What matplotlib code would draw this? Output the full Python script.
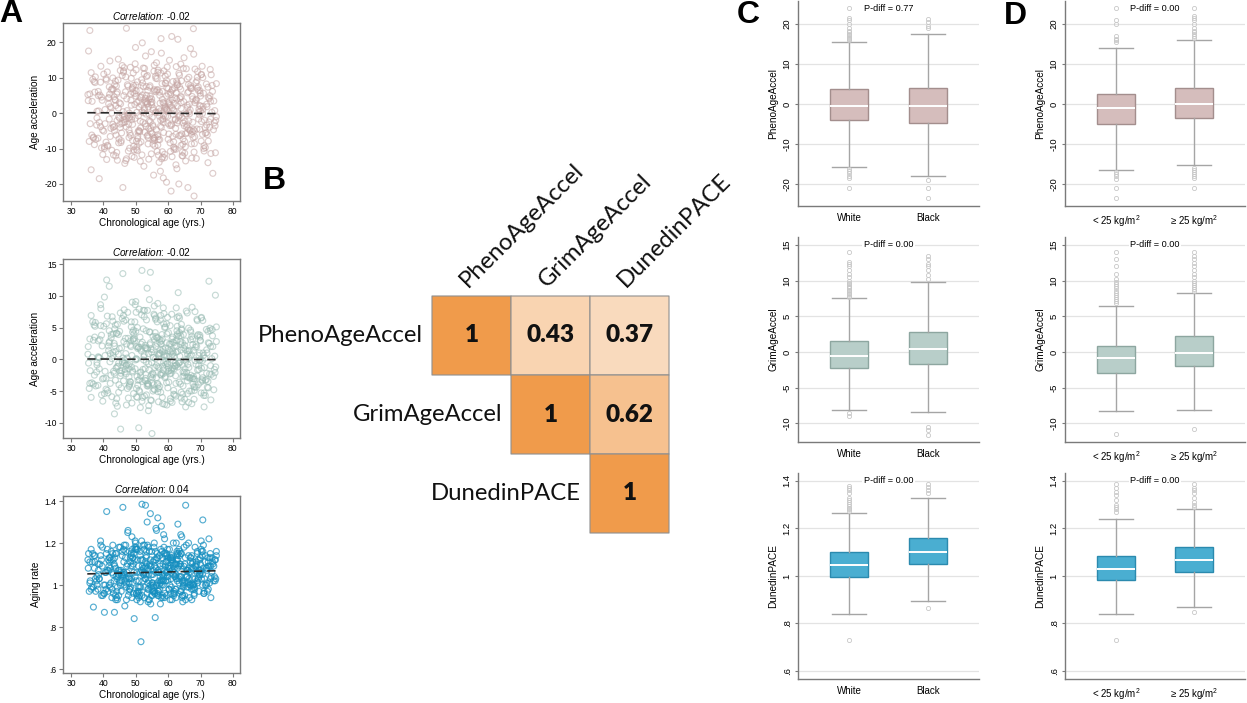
import matplotlib
matplotlib.use("Agg")
import matplotlib.pyplot as plt
import numpy as np
from matplotlib.colors import LinearSegmentedColormap, Normalize

# ---------------- DATA ----------------
# Panel A: chronological age (participants) and the three clocks (three blocks of read-off points)
ages = [
    36.2, 41.5, 47.8, 52.3, 55.1, 58.7, 63.4, 68.9, 72.6, 49.2, 53.8, 57.5, 60.9, 44.3, 66.1, 39.7, 51.0, 56.4, 61.8, 74.1,
    45.6, 50.4, 54.2, 59.3, 64.7, 70.2, 38.4, 43.1, 48.6, 53.1, 57.9, 62.2, 67.4, 73.3, 46.9, 52.7, 56.0, 60.1, 65.3, 35.8,
    42.4, 47.1, 51.6, 55.8, 59.9, 63.9, 69.5, 74.6, 40.8, 45.0, 49.9, 54.6, 58.2, 62.7, 67.0, 71.4, 37.5, 44.8, 50.8, 56.9,
    61.1, 65.8, 70.9, 48.1, 53.5, 57.2, 61.5, 66.6, 36.9, 42.0, 46.3, 51.3, 55.5, 59.6, 64.2, 69.1, 73.8, 43.7, 48.9, 54.0,
    58.4, 62.9, 67.8, 72.1, 39.1, 44.5, 49.5, 53.3, 57.0, 60.6, 64.9, 68.3, 47.5, 52.0, 56.6, 60.3, 63.1, 41.2, 46.0, 50.1,
    55.3, 59.0, 62.4, 66.3, 71.8, 38.0, 43.4, 48.3, 52.9, 56.2, 59.5, 63.6, 68.0, 74.9, 40.3, 45.3, 50.6, 54.8, 58.9, 62.0,
    65.6, 70.5, 44.1, 49.0, 53.6, 57.7, 61.3, 64.5, 69.8, 35.4, 41.8, 47.4, 51.9, 55.9, 60.4, 64.0, 67.2, 72.9, 46.6, 51.4,
    55.0, 58.6, 62.6, 66.9, 37.2, 42.7, 48.0, 52.5, 56.8, 61.0, 65.1, 70.0, 45.8, 50.9, 54.4, 58.0, 61.6, 66.0, 71.1, 39.4,
    43.9, 49.7, 53.0, 57.3, 60.7, 64.4, 68.6, 73.0, 47.0, 51.8, 55.6, 59.2, 63.0, 67.6, 36.5, 41.0, 46.2, 50.3, 54.9, 58.5,
    62.3, 66.4, 71.5, 44.6, 48.8, 53.7, 57.6, 61.9, 65.4, 69.3, 74.4, 40.1, 45.4, 50.0, 54.5, 59.7, 63.3, 67.9, 42.9, 52.1,
    56.3, 60.0, 64.1, 68.7, 38.7, 47.6, 51.2, 55.4, 59.1, 62.8, 72.3, 35.2, 46.4, 49.4, 53.9, 57.8, 61.4, 65.9, 70.7, 43.0,
]
pheno_accel = [
    -16.0, 4.2, -3.1, 7.5, -1.2, 2.8, -6.4, 9.1, -2.5, 11.3, -8.7, 0.6, -22.0, 5.9, -21.0, -4.8, 1.7, 14.2, -10.3, 3.4,
    -5.6, 3.0, -0.4, 8.4, 12.6, -7.9, 6.1, -11.8, 2.2, -3.7, 16.9, -1.9, 4.7, 10.8, -13.4, 0.9, -6.8, 5.3, -9.5, 23.3,
    1.5, 23.9, -8.1, 6.6, -2.9, 13.8, 0.3, -11.2, 9.7, -1.4, 18.5, -5.2, 3.9, -15.7, 7.2, -4.1, 10.2, -7.3, -0.8, 12.1,
    21.6, -3.3, 5.6, -9.9, 2.5, -13.9, 8.9, -0.2, -7.0, 14.7, -2.7, 4.4, -17.5, 1.1, -5.9, 11.7, -17.0, 3.6, 6.8, -4.4,
    -1.6, 7.9, 23.8, -6.1, -3.8, 9.3, -12.5, 5.0, 0.1, -8.4, 15.6, 2.9, -0.6, 19.8, -10.8, 3.2, -2.2, -9.1, -21.0, 6.3,
    -7.6, 1.9, -14.6, 6.0, 8.2, 0.5, -5.0, 12.9, -3.0, 9.8, -19.5, 4.1, -23.4, -1.0, -10.0, 2.6, -6.5, 17.3, -11.6, 7.1,
    -0.3, 13.2, 5.4, -7.7, 10.6, -2.0, 3.7, -12.1, -4.6, 17.5, -1.7, 8.0, 0.4, -9.3, 14.9, 1.3, -6.0, 4.9, -14.2, -2.3,
    3.1, -5.5, 9.0, 18.2, -8.9, 6.9, 0.0, -15.0, 11.5, -3.5, -8.0, 2.0, 13.4, -4.9, 7.7, -12.9, 0.8, 5.7, -10.7, 4.5,
    -6.2, 2.4, 16.1, -0.9, 5.8, -11.0, 8.6, 12.3, -3.9, 9.4, -7.1, 1.6, 20.8, -2.6, 3.3, -13.1, 11.9, -9.6, 4.0, -18.3,
    -4.3, 10.1, -9.7, 15.2, -1.1, 6.4, -16.4, 2.7, -5.8, 7.4, 0.7, 11.0, -8.3, 4.8, -2.4, 13.0, -20.0, 16.6, -3.2, 8.5,
    0.2, -7.4, 4.6, -12.8, -18.5, 7.6, -5.3, 1.4, 10.4, -2.8, -14.0, 5.2, -1.8, -10.4, 3.8, 21.0, -6.6, 9.6, 1.0, -4.0,
]
grim_accel = [
    -6.0, 2.1, -1.5, 4.8, -2.9, 0.7, -3.6, 6.3, 12.3, 3.2, -4.2, 1.0, -2.2, 5.5, -0.8, -3.1, 7.9, -1.0, 2.6, -4.8,
    1.8, -2.7, 9.4, -0.3, 3.9, -5.3, 0.4, -1.9, 5.1, -3.4, 2.9, -0.6, 8.2, -2.4, 0.9, -5.8, 4.2, -1.3, 1.5, -3.8,
    3.4, -0.9, -2.0, 6.9, -4.5, 2.3, -1.6, 10.1, -3.0, 4.4, -0.1, -6.4, 1.2, 3.7, -2.5, 0.2, 5.8, -4.0, 1.9, -1.2,
    7.1, -2.8, 0.6, -3.9, 11.2, -1.4, 2.7, -5.0, 3.0, -0.4, 6.0, -2.1, 0.3, -7.2, 4.6, -1.7, 2.0, -3.3, 9.0, -0.7,
    -2.3, 4.0, 1.4, -4.4, 8.6, -1.1, 3.3, -5.6, 0.8, 5.3, -2.6, -0.2, 7.4, -3.5, 2.5, -1.8, 10.5, -4.9, 13.5, 0.1,
    3.6, -2.9, 1.1, -6.8, 4.7, -0.5, -8.6, 2.2, -1.5, 6.5, -3.7, 0.5, -4.3, 2.8, 9.8, -11.0, 1.7, -2.4, 5.0, -1.0,
    0.0, -3.2, 4.1, -1.8, 7.7, -5.2, 1.3, -2.7, 3.5, -0.6, 11.5, -4.6, 14.0, -1.3, 2.4, -6.1, 0.7, 4.9, -2.0, 1.6,
    -11.7, 5.6, -0.9, 3.1, -2.5, 6.7, -4.1, 0.4, 8.8, -1.6, 2.2, -3.6, -0.3, -10.8, 4.3, -2.2, 1.0, -5.4, -7.5, 3.8,
    -1.4, 5.9, -3.0, 0.9, -6.6, 2.6, -0.8, 4.5, -2.3, 7.0, -4.7, 1.8, -1.2, 3.2, 0.3, 12.5, -3.4, 2.0, -0.5, 8.1,
    -2.6, 1.3, -5.7, 3.9, 0.6, -3.8, 6.2, -1.5, 2.9, -4.0, 0.5, 5.2, -2.2, 9.1, 13.7, -0.7, 3.6, -3.1, 1.1, -6.0,
    2.0, -1.9, 4.8, -4.4, 0.2, 3.3, -5.1, 1.5, -2.7, 6.6, -3.5, 0.8, -0.1, 4.0, -8.1, 2.4, -1.4, 7.3, -2.9, 0.6,
]
dunedin_pace = [
    0.98, 1.12, 1.03, 1.08, 0.95, 1.15, 1.01, 1.06, 1.22, 1.10, 0.92, 1.04, 1.13, 0.99, 1.07, 1.18, 1.02, 1.26, 0.97, 1.09,
    1.05, 1.17, 0.93, 1.11, 1.00, 1.21, 1.07, 0.96, 1.14, 1.03, 1.28, 0.98, 1.10, 1.04, 1.19, 0.94, 0.845, 1.08, 1.13, 1.01,
    1.16, 0.99, 0.73, 1.09, 1.02, 1.24, 0.97, 1.12, 1.06, 1.01, 1.20, 0.91, 1.05, 1.15, 1.00, 1.11, 1.03, 1.18, 0.96, 1.07,
    1.14, 1.04, 1.19, 0.98, 1.30, 1.02, 1.09, 0.94, 0.895, 1.13, 1.06, 1.16, 0.99, 1.07, 1.23, 1.01, 1.10, 0.95, 1.17, 1.05,
    1.00, 1.12, 1.08, 0.97, 1.21, 1.04, 0.84, 1.14, 1.06, 0.93, 1.18, 1.03, 1.25, 1.09, 1.01, 0.98, 1.15, 1.07, 1.37, 1.02,
    1.11, 0.96, 1.05, 1.20, 1.08, 1.00, 0.87, 1.13, 1.03, 1.27, 0.95, 1.10, 1.01, 1.16, 0.87, 1.06, 1.12, 0.99, 1.22, 1.04,
    1.07, 1.14, 0.97, 1.09, 1.19, 1.02, 1.12, 0.92, 1.05, 1.15, 1.00, 1.10, 1.385, 0.96, 1.17, 1.04, 1.08, 1.13, 0.90, 1.06,
    1.01, 1.24, 1.03, 1.11, 1.08, 0.98, 1.16, 1.05, 1.32, 0.99, 1.10, 1.06, 1.14, 0.94, 1.09, 1.02, 1.20, 1.07, 0.97, 1.12,
    1.04, 1.18, 1.38, 1.00, 1.13, 0.95, 1.07, 1.15, 1.01, 1.21, 0.97, 1.09, 1.29, 1.03, 1.11, 1.35, 1.06, 0.93, 1.16, 1.02,
    1.10, 0.99, 1.14, 1.05, 1.23, 1.01, 0.91, 1.08, 1.38, 1.03, 1.12, 0.96, 1.07, 1.17, 1.34, 1.04, 1.09, 1.00, 1.19, 1.06,
    1.08, 1.13, 0.98, 1.11, 1.03, 1.26, 0.95, 1.07, 1.15, 1.02, 1.09, 1.12, 1.00, 1.06, 1.18, 0.94, 1.11, 1.04, 1.31, 1.05,
]
# core of the cloud (denser central region)
ages_core = [
    44.2, 48.5, 52.8, 57.1, 61.4, 65.7, 70.0, 46.3, 50.6, 54.9, 59.2, 63.5, 67.8, 42.1, 56.7, 60.8, 49.8, 53.4, 64.6, 58.1,
    47.3, 51.5, 55.7, 59.8, 64.0, 68.2, 72.4, 45.1, 49.3, 53.2, 57.4, 61.7, 66.0, 70.3, 43.5, 48.2, 52.4, 56.5, 60.5, 62.9,
    50.2, 54.3, 58.3, 62.5, 66.7, 41.6, 45.9, 50.5, 55.2, 59.4, 63.8, 68.4, 71.2, 46.8, 51.1, 55.3, 59.6, 64.3, 57.9, 53.6,
    48.4, 52.2, 56.1, 60.2, 64.8, 69.0, 73.1, 43.3, 47.9, 52.6, 57.6, 61.2, 65.5, 69.7, 44.7, 49.1, 54.1, 58.8, 62.1, 66.8,
    51.7, 55.6, 59.5, 63.2, 67.3, 40.5, 46.1, 50.7, 54.7, 58.6, 62.7, 66.2, 70.8, 45.7, 49.6, 53.5, 57.5, 61.6, 65.0, 56.8,
    47.7, 52.0, 56.4, 60.7, 64.5, 68.8, 42.6, 46.7, 51.3, 55.0, 59.0, 63.4, 67.6, 71.9, 44.0, 48.7, 53.1, 57.0, 61.9, 54.5,
    49.0, 53.9, 58.2, 62.4, 66.5, 70.6, 41.9, 45.2, 50.3, 54.2, 58.5, 62.6, 65.9, 69.5, 47.0, 51.6, 55.8, 60.0, 63.7, 57.3,
    50.9, 55.4, 59.7, 63.9, 68.1, 43.8, 48.1, 52.9, 56.9, 61.3, 65.2, 69.9, 46.5, 50.0, 54.6, 58.4, 62.2, 66.4, 53.7, 60.4,
]
pheno_core = [
    -2.1, 3.6, -5.4, 1.2, 6.8, -3.9, 0.5, 4.9, -7.2, 2.3, -0.9, 7.4, -4.6, 1.8, -6.1, 5.2, -1.5, 3.1, -2.8, 8.3,
    0.7, -4.2, 6.2, -1.0, 2.9, -6.7, 4.4, -3.1, 7.8, -0.3, 5.0, -8.1, 1.6, -2.4, 3.8, -5.7, 0.1, 6.5, -3.5, 2.0,
    -7.9, 4.1, -1.8, 5.7, -4.9, 2.6, -0.6, 8.8, -3.3, 1.0, -6.3, 3.5, -2.0, 6.0, -5.1, 0.9, 7.1, -1.3, -4.0, 2.7,
    5.4, -2.6, 0.3, -5.9, 3.2, 7.0, -1.7, 4.6, -6.9, 1.4, -3.7, 6.4, -0.2, 2.1, -8.4, 5.8, -2.2, 0.8, 4.3, -4.8,
    2.4, -7.0, 4.8, -1.1, 6.9, -3.0, 0.4, -5.3, 3.0, -0.7, 8.0, -4.4, 1.9, -2.9, 5.5, -6.5, 2.8, -0.4, -3.6, 6.6,
    -1.4, 5.1, -4.7, 2.2, -8.8, 3.7, 0.0, -2.5, 6.3, -5.8, 1.3, -0.8, 4.0, -3.4, 7.6, -1.9, 3.3, -7.5, 0.6, 4.7,
    -3.2, 1.7, 6.1, -6.0, 2.5, -0.1, 5.3, -4.1, 0.2, 7.3, -2.7, 3.9, -5.6, 1.1, -1.6, 4.5, -7.7, 2.9, -0.5, 5.9,
    3.4, -3.8, 0.8, 6.7, -5.0, 2.1, -1.2, 4.2, -6.6, 1.5, -2.3, 5.6, -0.9, 7.9, -4.3, 3.0, -1.7, 0.3, -6.2, 2.6,
]
grim_core = [
    -1.2, 2.0, -3.3, 0.6, 3.5, -2.1, 0.0, 2.8, -4.1, 1.1, -0.8, 4.2, -2.7, 0.9, -3.8, 2.4, -1.5, 1.7, -2.0, 3.9,
    0.2, -2.6, 3.1, -0.7, 1.5, -4.4, 2.6, -1.8, 4.6, -0.4, 2.7, -4.9, 0.8, -1.4, 2.1, -3.5, -0.1, 3.4, -2.3, 1.2,
    -4.6, 2.3, -1.1, 3.0, -3.0, 1.4, -0.5, 5.0, -2.2, 0.5, -3.9, 1.9, -1.3, 3.3, -3.2, 0.3, 4.0, -0.9, -2.5, 1.6,
    2.9, -1.6, 0.1, -3.6, 1.8, 3.7, -1.0, 2.5, -4.3, 0.7, -2.4, 3.2, -0.3, 1.0, -5.2, 3.0, -1.7, 0.4, 2.2, -2.9,
    1.3, -4.0, 2.6, -0.6, 3.6, -1.9, 0.2, -3.3, 1.6, -0.5, 4.5, -2.8, 1.0, -1.8, 2.9, -4.2, 1.5, -0.2, -2.1, 3.4,
    -0.9, 2.7, -2.9, 1.2, -5.5, 2.0, 0.1, -1.6, 3.5, -3.7, 0.6, -0.6, 2.3, -2.2, 4.1, -1.2, 1.8, -4.6, 0.4, 2.6,
    -2.0, 0.9, 3.2, -3.8, 1.4, -0.2, 2.8, -2.6, 0.0, 4.3, -1.7, 2.1, -3.4, 0.6, -1.0, 2.4, -4.8, 1.7, -0.4, 3.1,
    1.9, -2.4, 0.5, 3.7, -3.1, 1.2, -0.7, 2.2, -4.0, 0.8, -1.5, 3.0, -0.6, 4.4, -2.7, 1.6, -1.1, 0.2, -3.9, 1.4,
]
pace_core = [
    1.03, 1.09, 0.99, 1.06, 1.13, 1.01, 1.07, 1.11, 0.97, 1.05, 1.02, 1.14, 1.00, 1.08, 0.96, 1.12, 1.04, 1.10, 1.01, 1.16,
    1.06, 0.99, 1.12, 1.04, 1.09, 0.98, 1.11, 1.02, 1.15, 1.05, 1.10, 0.95, 1.07, 1.03, 1.09, 0.98, 1.05, 1.13, 1.00, 1.08,
    0.96, 1.10, 1.03, 1.12, 1.00, 1.07, 1.04, 1.17, 1.01, 1.06, 0.97, 1.09, 1.03, 1.13, 0.99, 1.05, 1.14, 1.02, 1.00, 1.08,
    1.11, 1.02, 1.06, 0.98, 1.09, 1.15, 1.03, 1.10, 0.97, 1.06, 1.01, 1.12, 1.04, 1.07, 0.95, 1.13, 1.02, 1.05, 1.10, 1.00,
    1.07, 0.97, 1.11, 1.03, 1.14, 1.00, 1.05, 0.99, 1.09, 1.04, 1.16, 1.01, 1.08, 1.02, 1.12, 0.96, 1.09, 1.05, 1.01, 1.13,
    1.04, 1.12, 1.00, 1.08, 0.95, 1.10, 1.06, 1.02, 1.14, 0.98, 1.07, 1.04, 1.11, 1.01, 1.15, 1.03, 1.09, 0.97, 1.06, 1.12,
    1.01, 1.07, 1.13, 0.98, 1.08, 1.05, 1.11, 1.00, 1.06, 1.16, 1.02, 1.10, 0.99, 1.07, 1.03, 1.12, 0.96, 1.09, 1.04, 1.14,
    1.09, 1.00, 1.06, 1.15, 0.99, 1.08, 1.03, 1.11, 0.97, 1.07, 1.02, 1.13, 1.05, 1.17, 1.00, 1.10, 1.04, 1.06, 0.98, 1.08,
]
# outer band of the cloud (fills the age edges and the shoulders)
ages_band = [
    35.3, 36.4, 37.1, 38.0, 38.9, 39.4, 40.5, 41.2, 42.3, 43.0, 43.8, 44.9, 35.9, 36.7, 37.6, 38.5, 39.2, 40.1, 41.7, 42.6,
    66.4, 67.0, 68.1, 68.6, 69.7, 70.3, 71.5, 72.0, 73.2, 73.7, 74.5, 74.9, 66.8, 67.7, 68.3, 69.4, 70.0, 71.1, 71.9, 72.8,
    42.9, 45.5, 47.2, 51.4, 53.3, 56.8, 58.7, 62.4, 64.1, 67.3, 70.7, 73.6, 44.1, 46.4, 49.3, 52.6, 55.7, 58.2, 61.2, 63.5,
    35.6, 37.3, 38.7, 40.9, 42.1, 44.6, 45.2, 47.9, 49.0, 50.5, 52.9, 54.0, 56.2, 57.4, 59.8, 60.9, 62.8, 64.3, 65.9, 67.5,
    69.3, 71.0, 72.7, 74.3, 36.2, 38.3, 39.6, 41.4, 43.5, 44.7, 46.9, 48.4, 50.1, 51.9, 53.2, 55.3, 56.6, 58.9, 60.1, 62.0,
    63.8, 65.1, 66.9, 68.9, 70.2, 72.4, 73.5, 35.8, 37.9, 39.1, 40.8, 42.4, 44.3, 46.2, 47.7, 49.8, 51.0, 52.7, 54.8, 56.1,
    58.3, 59.5, 61.7, 63.3, 64.6, 66.3, 68.0, 69.8, 71.8, 73.1, 74.7, 36.9, 38.4, 40.3, 41.8, 43.3, 45.8, 47.1, 48.6, 50.2,
    52.3, 53.9, 55.6, 57.0, 59.1, 60.7, 62.5, 64.0, 65.6, 67.2, 69.0, 70.6, 72.3, 74.0, 37.4, 39.8, 43.7, 48.8, 57.7, 65.4,
]
pheno_band = [
    3.5, -6.2, 8.9, -1.4, 5.1, -9.8, 1.0, 11.6, -4.3, 6.7, -12.1, 2.9, -3.0, 9.5, -7.4, 0.6, 13.2, -5.1, 4.4, -10.5,
    -2.2, 7.0, -8.6, 3.9, -0.5, 10.9, -5.7, 1.8, -11.4, 6.1, -3.6, 8.3, 0.9, -6.9, 12.4, -1.7, 4.8, -9.2, 2.5, -4.0,
    9.9, -7.8, 4.0, -13.6, 10.3, -9.0, 11.9, -10.2, 9.1, -12.7, 10.0, 7.8, -11.1, 12.8, -9.4, 11.1, 13.5, -10.9, -12.3, 10.7,
    -8.0, 5.9, -2.6, 9.3, -6.6, 1.4, 12.0, -4.8, 7.2, -10.6, 3.0, -13.0, 6.0, -7.5, 11.0, -3.1, 8.5, -12.0, 2.2, -5.2,
    6.4, -10.0, 4.1, -2.7, 11.4, -7.1, 3.6, -9.3, 8.0, -1.1, 10.2, -6.3, 12.2, -11.8, 7.5, -8.8, 9.7, -12.6, 6.9, -9.9,
    4.6, -11.3, 7.7, -4.5, 10.8, -7.9, 0.2, 5.4, -3.4, 8.7, -8.2, 6.5, -13.3, 11.5, -10.7, 13.9, -8.5, 12.6, -11.5, 10.4,
    -12.4, 9.2, -9.6, 11.2, -7.3, 8.1, -11.0, 6.3, -5.5, 3.3, -2.1, -6.8, 4.9, -9.5, 7.4, -3.8, 10.6, -12.9, 9.8, -10.3,
    12.7, -7.0, 11.8, -11.9, 8.4, -10.8, 13.1, -9.1, 12.5, -8.7, 10.1, -6.0, 7.3, -4.7, 8.6, -11.7, 9.0, -12.2, 11.3, -13.5,
]
grim_band = [
    2.0, -3.7, 5.4, -0.9, 3.1, -5.6, 0.6, 6.8, -2.5, 4.0, -6.9, 1.7, -1.8, 5.9, -4.2, 0.3, 8.0, -3.0, 2.6, -5.9,
    -1.3, 4.3, -4.9, 2.3, -0.2, 6.6, -3.3, 1.0, -6.4, 3.7, -2.1, 5.1, 0.5, -3.9, 7.5, -1.0, 2.9, -5.3, 1.5, -2.3,
    6.0, -4.5, 2.4, -7.6, 6.2, -5.1, 7.2, -5.8, 5.5, -7.0, 6.1, 4.7, -6.2, 7.8, -5.4, 6.7, 8.4, -6.0, -6.8, 6.5,
    -4.6, 3.5, -1.5, 5.6, -3.8, 0.8, 7.3, -2.8, 4.3, -6.0, 1.8, -7.3, 3.6, -4.3, 6.6, -1.8, 5.2, -6.7, 1.3, -3.0,
    3.9, -5.7, 2.5, -1.6, 6.9, -4.1, 2.1, -5.3, 4.8, -0.6, 6.2, -3.6, 7.4, -6.6, 4.5, -5.0, 5.9, -7.1, 4.2, -5.6,
    2.8, -6.3, 4.6, -2.6, 6.5, -4.5, 0.1, 3.2, -2.0, 5.3, -4.7, 3.9, -7.4, 6.9, -6.1, 8.6, -4.9, 7.7, -6.5, 6.3,
    -7.0, 5.6, -5.5, 6.8, -4.2, 4.9, -6.3, 3.8, -3.2, 2.0, -1.2, -3.9, 2.9, -5.4, 4.5, -2.2, 6.4, -7.2, 5.9, -5.9,
    7.7, -4.0, 7.1, -6.7, 5.1, -6.2, 8.1, -5.2, 7.6, -5.0, 6.1, -3.4, 4.4, -2.7, 5.2, -6.6, 5.4, -6.9, 6.9, -7.5,
]
pace_band = [
    1.08, 0.99, 1.14, 1.04, 1.10, 0.95, 1.06, 1.17, 1.01, 1.12, 0.93, 1.07, 1.02, 1.15, 0.97, 1.05, 1.19, 1.00, 1.09, 0.94,
    1.03, 1.13, 0.96, 1.09, 1.05, 1.16, 1.00, 1.07, 0.94, 1.11, 1.02, 1.14, 1.06, 0.98, 1.18, 1.04, 1.10, 0.96, 1.08, 1.01,
    1.15, 0.97, 1.09, 0.92, 1.16, 0.95, 1.18, 0.94, 1.15, 0.93, 1.16, 1.13, 0.94, 1.19, 0.96, 1.17, 1.20, 0.95, 0.93, 1.16,
    0.97, 1.11, 1.03, 1.15, 0.99, 1.07, 1.18, 1.01, 1.13, 0.95, 1.08, 0.93, 1.12, 0.98, 1.17, 1.03, 1.14, 0.94, 1.07, 1.00,
    1.12, 0.96, 1.09, 1.04, 1.17, 0.98, 1.09, 0.97, 1.13, 1.05, 1.16, 0.99, 1.18, 0.95, 1.13, 0.97, 1.15, 0.94, 1.12, 0.96,
    1.10, 0.95, 1.13, 1.02, 1.17, 0.98, 1.06, 1.11, 1.02, 1.14, 0.98, 1.12, 0.93, 1.17, 0.95, 1.21, 0.97, 1.19, 0.95, 1.16,
    0.94, 1.15, 0.96, 1.17, 0.99, 1.14, 0.95, 1.12, 1.00, 1.09, 1.03, 0.99, 1.10, 0.96, 1.13, 1.02, 1.16, 0.93, 1.15, 0.96,
    1.19, 0.98, 1.18, 0.95, 1.14, 0.96, 1.20, 0.97, 1.19, 0.98, 1.16, 1.00, 1.13, 1.02, 1.14, 0.95, 1.15, 0.94, 1.17, 0.93,
]
fit_x = [35, 75]
fit_pheno = [0.1, -0.15]
fit_grim = [0.05, -0.05]
fit_pace = [1.053, 1.068]
corr_labels = ["-0.02", "-0.02", "0.04"]

# Panel B: correlation matrix (upper triangle)
clock_names = ["PhenoAgeAccel", "GrimAgeAccel", "DunedinPACE"]
corr_matrix = [
    [1.00, 0.43, 0.37],
    [np.nan, 1.00, 0.62],
    [np.nan, np.nan, 1.00],
]

# Panels C / D: box-plot summaries
race_groups = ["White", "Black"]
bmi_groups = ["< 25 kg/m$^2$", "\u2265 25 kg/m$^2$"]

pheno_race = [
    dict(q1=-3.97, med=-0.46, q3=3.7, whislo=-15.7, whishi=15.5,
         fliers=[15.9, 16.2, 16.5, 16.8, 17.2, 17.6, 18.0, 18.3, 19.0, 20.0, 21.0, 21.5, 24.0,
                 -16.2, -16.7, -17.3, -17.9, -18.6, -21.0]),
    dict(q1=-4.8, med=-0.46, q3=4.1, whislo=-18.0, whishi=17.6,
         fliers=[19.0, 19.5, 20.5, 21.2, -19.0, -21.0, -23.5]),
]
pheno_bmi = [
    dict(q1=-5.0, med=-1.0, q3=2.6, whislo=-16.4, whishi=13.9,
         fliers=[15.5, 16.0, 16.3, 17.0, 20.0, 21.0, 24.0, -17.0, -17.5, -18.0, -18.8, -21.0, -23.5]),
    dict(q1=-3.5, med=0.0, q3=4.1, whislo=-15.3, whishi=16.0,
         fliers=[16.5, 17.0, 17.5, 18.0, 18.3, 19.0, 20.0, 21.0, 21.5, 22.0, 24.0,
                 -16.0, -16.5, -17.0, -17.5, -18.0, -18.5, -21.0]),
]
grim_race = [
    dict(q1=-2.24, med=-0.56, q3=1.6, whislo=-8.1, whishi=7.5,
         fliers=[7.7, 7.9, 8.1, 8.3, 8.5, 8.7, 8.9, 9.1, 9.3, 9.5, 9.7, 10.0, 10.5, 11.0, 11.5,
                 12.0, 12.3, 12.6, 14.0, -8.6, -9.0]),
    dict(q1=-1.73, med=0.37, q3=2.76, whislo=-8.4, whishi=9.77,
         fliers=[10.3, 10.8, 11.5, 12.0, 12.4, 13.0, 13.5, -10.5, -10.9, -11.6]),
]
grim_bmi = [
    dict(q1=-2.9, med=-0.9, q3=0.8, whislo=-8.3, whishi=6.5,
         fliers=[6.8, 7.1, 7.4, 7.7, 8.0, 8.3, 8.6, 8.9, 9.2, 9.5, 9.8, 10.2, 11.0, 12.0, 13.0, 14.0, -11.5]),
    dict(q1=-1.9, med=-0.1, q3=2.2, whislo=-8.2, whishi=8.3,
         fliers=[8.5, 8.8, 9.1, 9.4, 9.7, 10.0, 10.5, 11.0, 11.5, 12.0, 12.5, 13.0, 13.5, 14.0, -10.8]),
]
pace_race = [
    dict(q1=0.996, med=1.045, q3=1.1025, whislo=0.839, whishi=1.264,
         fliers=[1.272, 1.28, 1.288, 1.296, 1.304, 1.312, 1.32, 1.33, 1.35, 1.36, 1.37, 1.38, 0.73]),
    dict(q1=1.049, med=1.10, q3=1.161, whislo=0.893, whishi=1.328,
         fliers=[1.35, 1.36, 1.375, 1.385, 0.867]),
]
pace_bmi = [
    dict(q1=0.985, med=1.031, q3=1.084, whislo=0.839, whishi=1.241,
         fliers=[1.27, 1.28, 1.29, 1.30, 1.32, 1.34, 1.355, 1.37, 1.385, 0.73]),
    dict(q1=1.017, med=1.069, q3=1.121, whislo=0.869, whishi=1.281,
         fliers=[1.29, 1.30, 1.31, 1.33, 1.35, 1.36, 1.37, 1.385, 0.847]),
]
pdiff_race = ["0.77", "0.00", "0.00"]
pdiff_bmi = ["0.00", "0.00", "0.00"]

# ---------------- STYLE ----------------
plt.rcParams['font.family'] = ['Liberation Sans', 'DejaVu Sans']
plt.rcParams['mathtext.fontset'] = 'custom'
plt.rcParams['mathtext.rm'] = 'Liberation Sans'
plt.rcParams['mathtext.it'] = 'Liberation Sans:italic'
plt.rcParams['mathtext.bf'] = 'Liberation Sans:bold'

W, H = 1247, 703
fig = plt.figure(figsize=(W / 100, H / 100), dpi=100)


def px_axes(x0, y0, x1, y1):
    return fig.add_axes([x0 / W, 1 - y1 / H, (x1 - x0) / W, (y1 - y0) / H])


GRAY = "#7a7a7a"
pheno_col = dict(scatter="#C4A4A2", fill="#D5BDBC", edge="#A38E8D", alpha=0.55)
grim_col = dict(scatter="#98BBB3", fill="#B8CEC9", edge="#8DA6A0", alpha=0.55)
pace_col = dict(scatter="#168FC0", fill="#4AAED1", edge="#2B8AAE", alpha=0.72)

# ---------------- PANEL A ----------------
scatter_rows = [
    ((pheno_accel, pheno_core, pheno_band), fit_pheno, corr_labels[0], "Age acceleration", (23, 201),
     (-24.8, 25.4), [-20, -10, 0, 10, 20], ["-20", "-10", "0", "10", "20"], pheno_col),
    ((grim_accel, grim_core, grim_band), fit_grim, corr_labels[1], "Age acceleration", (259, 438),
     (-12.4, 15.8), [-10, -5, 0, 5, 10, 15], ["-10", "-5", "0", "5", "10", "15"], grim_col),
    ((dunedin_pace, pace_core, pace_band), fit_pace, corr_labels[2], "Aging rate", (496, 673),
     (0.581, 1.424), [0.6, 0.8, 1.0, 1.2, 1.4], [".6", ".8", "1", "1.2", "1.4"], pace_col),
]
all_ages = ages + ages_core + ages_band
for ys, fit, clab, ylab, (py0, py1), ylim, yt, ytl, col in scatter_rows:
    ax = px_axes(63, py0, 240, py1)
    ax.scatter(all_ages, ys[0] + ys[1] + ys[2], s=18, facecolors="none", edgecolors=col["scatter"],
               linewidths=0.85, alpha=col["alpha"])
    ax.plot(fit_x, fit, color="#2a2a2a", lw=1.2, dashes=(5, 3))
    ax.set_xlim(27.5, 82.2)
    ax.set_ylim(*ylim)
    ax.set_xticks([30, 40, 50, 60, 70, 80])
    ax.set_yticks(yt)
    ax.set_yticklabels(ytl)
    ax.tick_params(labelsize=6.2, length=3, width=0.8, color=GRAY, pad=1.5)
    for sp in ax.spines.values():
        sp.set_color(GRAY)
        sp.set_linewidth(1.0)
    ax.set_xlabel("Chronological age (yrs.)", fontsize=7.2, labelpad=1)
    ax.set_ylabel(ylab, fontsize=7.2, labelpad=3)
    ax.set_title(r"$\it{Correlation}$: " + clab, fontsize=7.2, pad=2)

# ---------------- PANEL B ----------------
axh = px_axes(432, 296, 669, 533)
cmap = LinearSegmentedColormap.from_list("corr_or", ["#FFFFFF", "#F09B4B"])
cm = np.ma.masked_invalid(np.array(corr_matrix, dtype=float))
n = len(clock_names)
mesh = axh.pcolor(np.arange(n + 1), np.arange(n + 1), cm, cmap=cmap, norm=Normalize(0, 1),
                  edgecolors="#8f8f8f", linewidth=0.8)
mesh.set_clip_on(False)
axh.set_xlim(0, n)
axh.set_ylim(n, 0)
axh.axis("off")
LBL = ["Lato", "DejaVu Sans"]
for i in range(n):
    for j in range(n):
        v = corr_matrix[i][j]
        if not np.isnan(v):
            txt = "1" if v == 1 else f"{v:.2f}"
            axh.text(j + 0.5, i + 0.5, txt, ha="center", va="center", fontsize=17.5,
                     fontweight="heavy", family=LBL, color="#111111")
    axh.text(i - 0.11, i + 0.5, clock_names[i], ha="right", va="center", fontsize=17.2,
             family=LBL, color="#111111")
    axh.text(i + 0.46, -0.1, clock_names[i], ha="left", va="baseline", rotation=45,
             rotation_mode="anchor", fontsize=17.2, family=LBL, color="#111111")

# ---------------- PANELS C / D ----------------
box_rows = [
    ("PhenoAgeAccel", pheno_race, pheno_bmi, pheno_col, (1, 206), (-25.5, 25.75),
     [-20, -10, 0, 10, 20], ["-20", "-10", "0", "10", "20"]),
    ("GrimAgeAccel", grim_race, grim_bmi, grim_col, (236.7, 442.3), (-12.66, 16.16),
     [-10, -5, 0, 5, 10, 15], ["-10", "-5", "0", "5", "10", "15"]),
    ("DunedinPACE", pace_race, pace_bmi, pace_col, (473.3, 679.3), (0.565, 1.432),
     [0.6, 0.8, 1.0, 1.2, 1.4], [".6", ".8", "1", "1.2", "1.4"]),
]
for r, (ylab, race_stats, bmi_stats, col, (py0, py1), ylim, yt, ytl) in enumerate(box_rows):
    for (x0, x1), stats, groups, pd_txt in [((798, 979), race_stats, race_groups, pdiff_race[r]),
                                            ((1065, 1245), bmi_stats, bmi_groups, pdiff_bmi[r])]:
        ax = px_axes(x0, py0, x1, py1)
        ax.bxp(stats, positions=[1, 2], widths=0.48, capwidths=0.44, patch_artist=True,
               boxprops=dict(facecolor=col["fill"], edgecolor=col["edge"], linewidth=1.0),
               medianprops=dict(color="white", linewidth=1.4),
               whiskerprops=dict(color="#a5a5a5", linewidth=1.0),
               capprops=dict(color="#a5a5a5", linewidth=1.0),
               flierprops=dict(marker="o", markersize=3, markerfacecolor="none",
                               markeredgecolor="#c8c8c8", markeredgewidth=0.6),
               manage_ticks=False)
        ax.set_xlim(0.35, 2.65)
        ax.set_ylim(*ylim)
        ax.set_xticks([1, 2])
        ax.set_xticklabels(groups, fontsize=7)
        ax.set_yticks(yt)
        ax.set_yticklabels(ytl, rotation=90, va="center", fontsize=6.8)
        ax.tick_params(axis="x", length=0, pad=5)
        ax.tick_params(axis="y", length=2.5, width=0.8, color=GRAY, pad=2)
        ax.grid(axis="y", color="#e3e3e3", linewidth=0.9)
        ax.set_axisbelow(True)
        for s in ["top", "right"]:
            ax.spines[s].set_visible(False)
        for s in ["left", "bottom"]:
            ax.spines[s].set_color(GRAY)
            ax.spines[s].set_linewidth(1.0)
        ax.set_ylabel(ylab, fontsize=7.2, labelpad=3)
        ax.text(1.5, 0.963, "P-diff = " + pd_txt, transform=ax.get_xaxis_transform(),
                ha="center", va="center", fontsize=6.6,
                bbox=dict(facecolor="white", edgecolor="none", pad=1.0))

# ---------------- PANEL LETTERS ----------------
for letter, (lx, ly) in {"A": (11, 14), "B": (274, 181), "C": (748, 15), "D": (1015, 16)}.items():
    fig.text(lx / W, 1 - ly / H, letter, ha="center", va="center", fontsize=23,
             fontweight="bold", family=["Liberation Sans", "DejaVu Sans"])

fig.savefig("out.png", dpi=100)
